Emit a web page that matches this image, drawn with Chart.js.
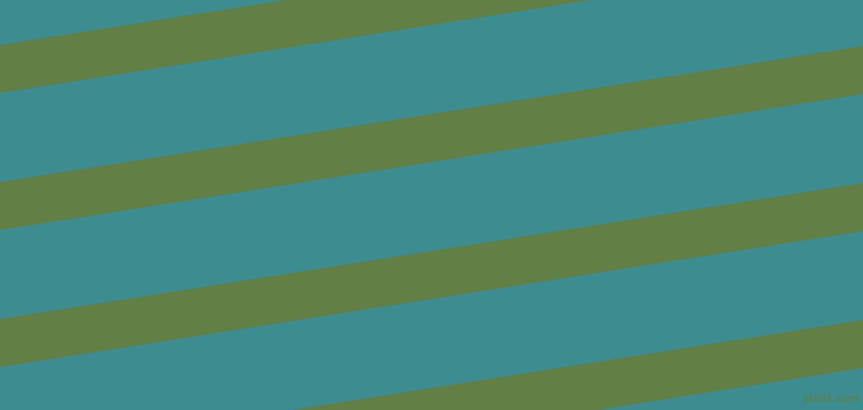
<!DOCTYPE html>
<html>
<head>
<meta charset="utf-8">
<script src="https://cdn.jsdelivr.net/npm/chart.js@4.4.1/dist/chart.umd.min.js"></script>
<style>
  html, body { margin: 0; padding: 0; background: #3d8c8f; overflow: hidden; }
  #stripes { display: block; background: #3d8c8f; }
</style>
</head>
<body>
<canvas id="stripes" width="863" height="410"></canvas>
<script>
// stripe edges (y in pixels from the top)
const stripeTopAtLeft = [45, 182, 319, 456];
const stripeTopAtRight = [-91, 46, 183, 320];
const stripeBottomAtLeft = [93, 230, 367, 504];
const stripeBottomAtRight = [-43, 94, 231, 368];
const xEnds = [0, 863];

const stripeColor = "#627f46";
const watermark = "pixlis.com";

function buildDatasets() {
  const datasets = [];
  stripeTopAtLeft.forEach((top, index) => {
    datasets.push({
      data: [
        { x: xEnds[0], y: top },
        { x: xEnds[1], y: stripeTopAtRight[index] },
      ],
      borderWidth: 0,
      pointRadius: 0,
      fill: false,
    });
    datasets.push({
      data: [
        { x: xEnds[0], y: stripeBottomAtLeft[index] },
        { x: xEnds[1], y: stripeBottomAtRight[index] },
      ],
      borderWidth: 0,
      pointRadius: 0,
      backgroundColor: stripeColor,
      fill: "-1",
    });
  });
  return datasets;
}

const watermarkPlugin = {
  id: "watermark",
  afterDraw(chart) {
    const ctx = chart.ctx;
    ctx.save();
    ctx.font = "bold 10px 'DejaVu Sans'";
    ctx.fillStyle = "rgba(98, 127, 70, 0.75)";
    ctx.textAlign = "right";
    ctx.textBaseline = "alphabetic";
    ctx.fillText(watermark, 859, 402);
    ctx.restore();
  },
};

new Chart(document.getElementById("stripes"), {
  type: "line",
  data: { datasets: buildDatasets() },
  options: {
    responsive: false,
    animation: false,
    events: [],
    layout: { padding: 0 },
    plugins: {
      legend: { display: false },
      tooltip: { enabled: false },
    },
    scales: {
      x: { type: "linear", min: 0, max: 863, display: false },
      y: { type: "linear", min: 0, max: 410, reverse: true, display: false },
    },
  },
  plugins: [watermarkPlugin],
});
</script>
</body>
</html>
